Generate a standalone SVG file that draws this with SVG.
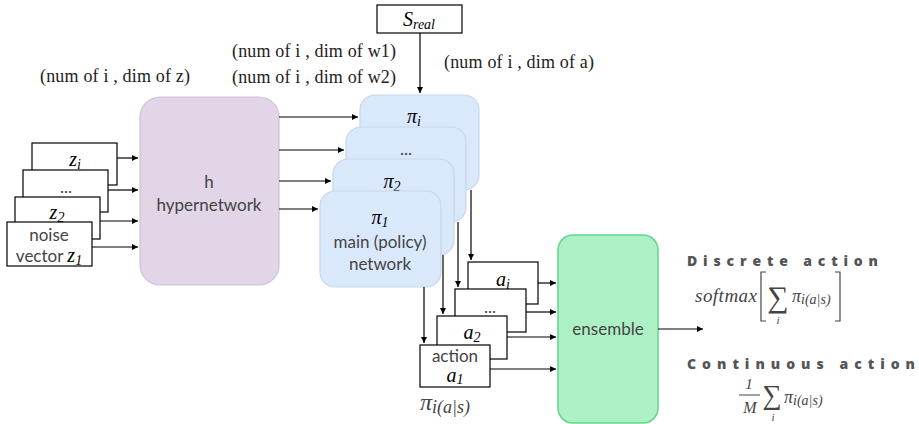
<svg xmlns="http://www.w3.org/2000/svg" width="919" height="424" viewBox="0 0 919 424">
<style>
.box{fill:#fff;stroke:#000;stroke-width:1.2}
.hyper{fill:#e1d5e7;stroke:#cfc0d6;stroke-width:1.2}
.pi{fill:#dae8fc;stroke:#c6d6ec;stroke-width:1.2}
.ens{fill:#aef0c6;stroke:#5ed88c;stroke-width:1.5}
.lt{font-family:Lato,"Open Sans",sans-serif;font-weight:400;fill:#444;text-anchor:middle;font-size:17px}
.m{font-family:"Liberation Serif","DejaVu Serif",serif;font-style:italic;fill:#000;text-anchor:middle;font-size:20px}
.s{font-size:14px}
.mg{font-family:"Liberation Serif","DejaVu Serif",serif;font-style:italic;fill:#444}
.lab{font-family:"Liberation Serif","DejaVu Serif",serif;font-size:18px;fill:#222}
.hd{font-family:"Open Sans","DejaVu Sans",sans-serif;font-weight:800;font-size:14px;fill:#555}
.c{fill:none;stroke:#000;stroke-width:1.2}
</style>
<defs>
<marker id="ah" markerWidth="8" markerHeight="8" refX="6" refY="3" orient="auto" markerUnits="userSpaceOnUse">
<path d="M0,0 L6,3 L0,6 z" fill="#000"/>
</marker>
</defs>

<g id="labels">
<text class="lab" x="40" y="82" textLength="150">(num of i , dim of z)</text>
<text class="lab" x="232" y="57" textLength="164">(num of i , dim of w1)</text>
<text class="lab" x="232" y="83" textLength="164">(num of i , dim of w2)</text>
<text class="lab" x="444" y="68" textLength="150">(num of i , dim of a)</text>
</g>

<g id="s-real">
<rect class="box" x="377" y="5" width="85" height="28"/>
<text class="m" x="419" y="26" font-size="19">S<tspan class="s" dy="3">real</tspan></text>
</g>

<g id="noise-stack">
<rect class="box" x="32" y="143" width="85" height="42"/>
<text class="m" x="75" y="166">z<tspan class="s" dy="3">i</tspan></text>
<rect class="box" x="23" y="170" width="85" height="42"/>
<text class="lt" x="66" y="193" font-size="15">...</text>
<rect class="box" x="15" y="197" width="85" height="42"/>
<text class="m" x="57" y="219">z<tspan class="s" dy="3">2</tspan></text>
<rect class="box" x="7" y="222" width="85" height="44"/>
<text class="lt" x="49" y="241">noise</text>
<text class="lt" x="49" y="262">vector <tspan class="m">z</tspan><tspan class="m s" dy="3">1</tspan></text>
</g>

<g id="hypernetwork">
<rect class="hyper" x="140" y="97" width="139" height="188" rx="20"/>
<text class="lt" x="209" y="188" font-size="18">h</text>
<text class="lt" x="209" y="211" font-size="18">hypernetwork</text>
</g>

<g id="pi-stack">
<rect class="pi" x="360" y="95" width="119" height="95" rx="15"/>
<text class="m" x="414" y="123">π<tspan class="s" dy="3">i</tspan></text>
<rect class="pi" x="346" y="127" width="120" height="95" rx="15"/>
<text class="lt" x="406" y="155" font-size="15">...</text>
<rect class="pi" x="333" y="159" width="121" height="96" rx="15"/>
<text class="m" x="392" y="188">π<tspan class="s" dy="3">2</tspan></text>
<rect class="pi" x="320" y="191" width="121" height="96" rx="15"/>
<text class="m" x="380" y="224">π<tspan class="s" dy="3">1</tspan></text>
<text class="lt" x="380" y="248" font-size="18">main (policy)</text>
<text class="lt" x="380" y="270" font-size="18">network</text>
</g>

<g id="action-stack">
<rect class="box" x="468" y="262" width="70" height="42"/>
<text class="m" x="503" y="286">a<tspan class="s" dy="3">i</tspan></text>
<rect class="box" x="455" y="289" width="71" height="43"/>
<text class="lt" x="490" y="313" font-size="15">...</text>
<rect class="box" x="437" y="316" width="70" height="43"/>
<text class="m" x="472" y="339">a<tspan class="s" dy="3">2</tspan></text>
<rect class="box" x="420" y="345" width="70" height="42"/>
<text class="lt" x="455" y="362">action</text>
<text class="m" x="455" y="382" font-size="19">a<tspan class="s" dy="2">1</tspan></text>
</g>

<g id="pi-label">
<text class="mg" x="420" y="410" font-size="24">π<tspan font-size="18" dy="3">i(a|s)</tspan></text>
</g>

<g id="ensemble">
<rect class="ens" x="558" y="235" width="100" height="188" rx="15"/>
<text class="lt" x="608" y="335">ensemble</text>
</g>

<g id="outputs">
<text class="hd" x="687" y="266" textLength="191" lengthAdjust="spacing">Discrete action</text>
<text class="mg" x="695" y="302" font-size="19" textLength="62">softmax</text>
<path d="M766,272 h-5 v49 h5 M835,272 h5 v49 h-5" fill="none" stroke="#444" stroke-width="1.2"/>
<text class="mg" x="778" y="307" font-size="30" font-style="normal" text-anchor="middle">∑</text>
<text class="mg" x="778" y="324" font-size="11" text-anchor="middle">i</text>
<text class="mg" x="792" y="302" font-size="18">π<tspan font-size="14" dy="2">i(a|s)</tspan></text>
<text class="hd" x="687" y="369" textLength="228" lengthAdjust="spacing">Continuous action</text>
<text class="mg" x="749" y="389" font-size="15" font-style="normal" text-anchor="middle">1</text>
<line x1="739" y1="395" x2="760" y2="395" stroke="#444" stroke-width="1"/>
<text class="mg" x="750" y="413" font-size="16" text-anchor="middle">M</text>
<text class="mg" x="772" y="404" font-size="27" font-style="normal" text-anchor="middle">∑</text>
<text class="mg" x="773" y="421" font-size="11" text-anchor="middle">i</text>
<text class="mg" x="784" y="403" font-size="18">π<tspan font-size="14" dy="2">i(a|s)</tspan></text>
</g>

<g id="connectors">
<path class="c" d="M117,158 H138" marker-end="url(#ah)"/>
<path class="c" d="M108,190 H138" marker-end="url(#ah)"/>
<path class="c" d="M100,221 H138" marker-end="url(#ah)"/>
<path class="c" d="M92,247 H138" marker-end="url(#ah)"/>
<path class="c" d="M279,117 H358" marker-end="url(#ah)"/>
<path class="c" d="M279,150 H344" marker-end="url(#ah)"/>
<path class="c" d="M279,181 H331" marker-end="url(#ah)"/>
<path class="c" d="M279,209 H318" marker-end="url(#ah)"/>
<path class="c" d="M420,33 V93" marker-end="url(#ah)"/>
<path class="c" d="M471,190 V260" marker-end="url(#ah)"/>
<path class="c" d="M458,222 V287" marker-end="url(#ah)"/>
<path class="c" d="M443,255 V314" marker-end="url(#ah)"/>
<path class="c" d="M424,287 V343" marker-end="url(#ah)"/>
<path class="c" d="M538,283 H556" marker-end="url(#ah)"/>
<path class="c" d="M526,312 H556" marker-end="url(#ah)"/>
<path class="c" d="M507,337 H556" marker-end="url(#ah)"/>
<path class="c" d="M490,369 H556" marker-end="url(#ah)"/>
<path class="c" d="M658,329 H703" marker-end="url(#ah)"/>
</g>
</svg>
